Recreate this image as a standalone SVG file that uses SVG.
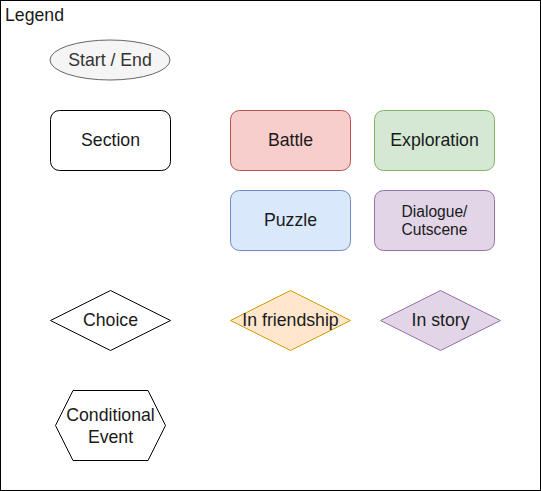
<svg xmlns="http://www.w3.org/2000/svg" width="541" height="491" viewBox="0 0 541 491">
<style>
text{font-family:"Liberation Sans",Arial,sans-serif;font-size:17.7px;fill:#1a1a1a;text-anchor:middle}
.small{font-size:15.6px}
</style>
<rect x="0" y="0" width="541" height="491" fill="#ffffff"/>
<g id="legend-frame">
<rect x="0.5" y="0.5" width="540" height="490" fill="#ffffff" stroke="#000000"/>
<text x="5" y="21" style="text-anchor:start">Legend</text>
</g>
<g id="start-end">
<ellipse cx="110" cy="60" rx="60" ry="20" fill="#f5f5f5" stroke="#666666"/>
<text x="110" y="65.8" style="fill:#333333">Start / End</text>
</g>
<g id="section">
<rect x="50.5" y="110.5" width="120" height="60" rx="9" fill="#ffffff" stroke="#000000"/>
<text x="110.5" y="146">Section</text>
</g>
<g id="battle">
<rect x="230.5" y="110.5" width="120" height="60" rx="9" fill="#f8cecc" stroke="#b85450"/>
<text x="290.5" y="146">Battle</text>
</g>
<g id="exploration">
<rect x="374.5" y="110.5" width="120" height="60" rx="9" fill="#d5e8d4" stroke="#82b366"/>
<text x="434.5" y="146">Exploration</text>
</g>
<g id="puzzle">
<rect x="230.5" y="190.5" width="120" height="60" rx="9" fill="#dae8fc" stroke="#6c8ebf"/>
<text x="290.5" y="226">Puzzle</text>
</g>
<g id="dialogue">
<rect x="374.5" y="190.5" width="120" height="60" rx="9" fill="#e1d5e7" stroke="#9673a6"/>
<text class="small" x="434.5" y="216.5">Dialogue/</text>
<text class="small" x="434.5" y="234.5">Cutscene</text>
</g>
<g id="choice">
<polygon points="50.5,320.5 110.5,290.5 170.5,320.5 110.5,350.5" fill="#ffffff" stroke="#000000"/>
<text x="110.5" y="326">Choice</text>
</g>
<g id="in-friendship">
<polygon points="230.5,320.5 290.5,290.5 350.5,320.5 290.5,350.5" fill="#ffe6cc" stroke="#d79b00"/>
<text x="290.5" y="326">In friendship</text>
</g>
<g id="in-story">
<polygon points="380.5,320.5 440.5,290.5 500.5,320.5 440.5,350.5" fill="#e1d5e7" stroke="#9673a6"/>
<text x="440.5" y="326">In story</text>
</g>
<g id="conditional-event">
<polygon points="55.5,425.5 73,390.5 148,390.5 165.5,425.5 148,460.5 73,460.5" fill="#ffffff" stroke="#000000"/>
<text x="110.5" y="420.5">Conditional</text>
<text x="110.5" y="442.5">Event</text>
</g>
<g id="connectors"></g>
</svg>
